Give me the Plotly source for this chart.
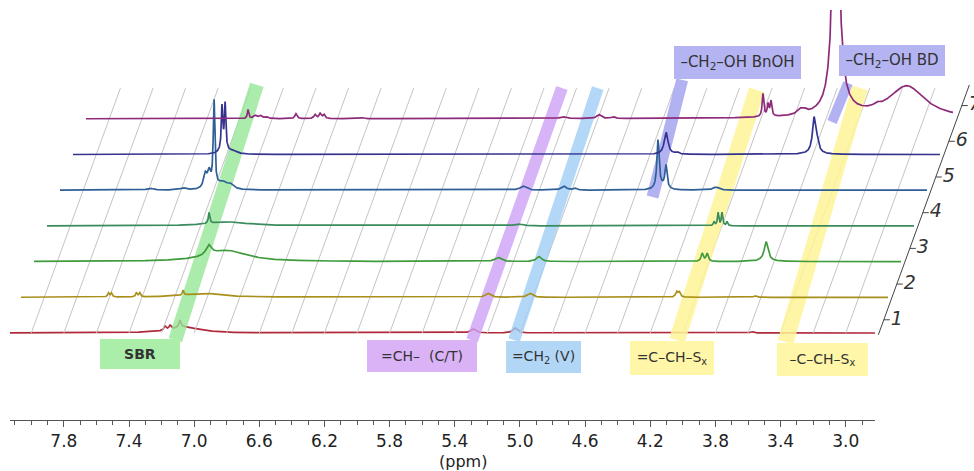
import numpy as np
import plotly.graph_objects as go

# ---------------- data ----------------
PPM_TICKS = [7.8, 7.4, 7.0, 6.6, 6.2, 5.8, 5.4, 5.0, 4.6, 4.2, 3.8, 3.4, 3.0]
GRID_PPM = [8.0, 7.8, 7.6, 7.4, 7.2, 7.0, 6.8, 6.6, 6.4, 6.2, 6.0, 5.8, 5.6,
            5.4, 5.2, 5.0, 4.8, 4.6, 4.4, 4.2, 4.0, 3.8, 3.6, 3.4, 3.2, 3.0]
SPECTRUM_NAMES = ["1", "2", "3", "4", "5", "6", "7"]

# peak lists per spectrum: centre (ppm), height (a.u.), half width (ppm)
S1_PPM = [7.060, 7.179, 7.148, 7.087, 5.288, 5.030, 3.576]
S1_H = [6, 4, 4, 7, 4, 5, 1.5]
S1_W = [0.11, 0.008, 0.008, 0.007, 0.018, 0.016, 0.012]

S2_PPM = [7.606, 7.588, 7.434, 7.414, 7.148, 7.025, 5.276, 5.018, 4.118, 4.102, 3.636]
S2_H = [4, 4, 4, 4, 5, 4, 4, 4, 5, 5, 1.5]
S2_W = [0.006, 0.006, 0.006, 0.006, 0.005, 0.135, 0.018, 0.018, 0.008, 0.008, 0.01]

S3_PPM = [7.070, 6.960, 5.294, 5.043, 4.041, 4.011, 3.649, 3.649]
S3_H = [10, 11, 4, 5, 8, 8, 16, 4]
S3_W = [0.02, 0.15, 0.022, 0.018, 0.008, 0.008, 0.012, 0.03]

S4_PPM = [7.148, 7.037, 5.251, 4.048, 4.023, 3.999, 3.968]
S4_H = [11, 4, 2, 4, 13, 13, 4]
S4_W = [0.005, 0.15, 0.03, 0.005, 0.005, 0.005, 0.005]

S5_PPM = [7.590, 7.387, 7.252, 7.228, 7.197, 7.148, 7.099, 5.300, 5.049, 4.981,
          4.472, 4.423, 4.450, 4.116]
S5_H = [2, 2, 14, 16, 86, 7, 5, 4, 4, 2, 48, 23, 3, 3]
S5_W = [0.02, 0.02, 0.012, 0.012, 0.006, 0.03, 0.025, 0.022, 0.018, 0.012,
        0.008, 0.008, 0.03, 0.022]

S6_PPM = [7.228, 7.209, 7.218, 7.160, 4.502, 4.435, 3.594, 3.575, 3.590]
S6_H = [42, 44, 6, 3, 22, 2, 32, 9, 4]
S6_W = [0.005, 0.005, 0.025, 0.03, 0.014, 0.012, 0.011, 0.01, 0.035]

S7_PPM = [7.148, 7.105, 7.074, 7.037, 6.854, 6.737, 6.706, 6.682, 6.442, 5.215,
          4.994, 4.908, 3.987, 3.956, 3.938, 3.760, 3.730, 3.539, 3.540, 3.289, 3.104]
S7_H = [9, 3, 3, 2, 5, 4, 5, 4, 1, 2, 4, 2, 23, 12, 15, 5, 3, 300, 4, 3, 32]
S7_W = [0.005, 0.012, 0.012, 0.012, 0.008, 0.008, 0.008, 0.008, 0.01, 0.02,
        0.015, 0.012, 0.006, 0.006, 0.006, 0.02, 0.015, 0.021, 0.15, 0.02, 0.135]

PEAK_PPM = [S1_PPM, S2_PPM, S3_PPM, S4_PPM, S5_PPM, S6_PPM, S7_PPM]
PEAK_H = [S1_H, S2_H, S3_H, S4_H, S5_H, S6_H, S7_H]
PEAK_W = [S1_W, S2_W, S3_W, S4_W, S5_W, S6_W, S7_W]

# assignment bands: chemical shift at lower / upper end
BAND_TEXT = ["SBR", "=CH\u2013\u00a0\u00a0(C/T)", "=CH<sub>2</sub> (V)",
             "=C\u2013CH\u2013S<sub>x</sub>", "\u2013C\u2013CH\u2013S<sub>x</sub>",
             "\u2013CH<sub>2</sub>\u2013OH BnOH", "\u2013CH<sub>2</sub>\u2013OH BD"]
BAND_PPM_LOW = [7.10, 5.278, 5.02, 4.02, 3.35, 4.49, 3.556]
BAND_PPM_HIGH = [7.17, 5.29, 5.07, 4.09, 3.46, 4.57, 3.545]

# ---------------- styles / layout ----------------
W, H = 974, 471
PLOT_TOP, PLOT_BOTTOM = 10, 420
AX_LEFT, AX_RIGHT = 10, 875
PX_PER_PPM = 162.9
REF_PPM, REF_PX = 5.4, 454.8
SHIFT_PX = 13.0          # horizontal shift per stacked level
LEVEL_GAP = 35.7         # vertical offset per level (a.u. == px)
BASE1_PX = 333           # baseline of spectrum 1


def ppm_at(px):
    return REF_PPM - (px - REF_PX) / PX_PER_PPM


SHIFT_PPM = SHIFT_PX / PX_PER_PPM
Y_BOTTOM = -(PLOT_BOTTOM - BASE1_PX)
Y_TOP = BASE1_PX - PLOT_TOP

COLORS = ["#b02a3c", "#a8901c", "#3f9b3c", "#3a8c5c", "#2f5f96", "#34348f", "#8e2a7a"]

BAND_STYLE = [
    dict(color="rgba(150,230,150,0.8)", box="#aaeeaa", width=14, l0=-0.2, l1=6.95,
         cx=140, cy=354, bw=80, bh=30, size=14, bold=True),
    dict(color="rgba(205,160,245,0.8)", box="#dab2f6", width=12, l0=-0.2, l1=6.86,
         cx=422, cy=356, bw=110, bh=32, size=14, bold=False),
    dict(color="rgba(160,205,245,0.8)", box="#b2d6f6", width=12, l0=-0.2, l1=6.86,
         cx=543, cy=357, bw=75, bh=32, size=14, bold=False),
    dict(color="rgba(255,243,150,0.85)", box="#fff6a8", width=16, l0=-0.2, l1=6.81,
         cx=672, cy=358, bw=84, bh=34, size=14, bold=False),
    dict(color="rgba(255,243,150,0.85)", box="#fff6a8", width=16, l0=-0.25, l1=6.86,
         cx=822, cy=359, bw=91, bh=33, size=14, bold=False),
    dict(color="rgba(165,165,240,0.85)", box="#b4b4f2", width=12, l0=3.81, l1=7.09,
         cx=737, cy=62, bw=127, bh=33, size=15, bold=False),
    dict(color="rgba(165,165,240,0.85)", box="#b4b4f2", width=10, l0=5.91, l1=7.0,
         cx=892, cy=60, bw=106, bh=31, size=15, bold=False),
]


def px_x(x):
    return x / W


def px_y(y):
    return (PLOT_BOTTOM - y) / (PLOT_BOTTOM - PLOT_TOP)


fig = go.Figure()

# oblique grid lines
grid_top = 6.86
gx, gy = [], []
for p in GRID_PPM:
    gx += [p, p - grid_top * SHIFT_PPM, None]
    gy += [0, grid_top * LEVEL_GAP, None]
fig.add_trace(go.Scatter(x=gx, y=gy, xaxis="x2", yaxis="y", mode="lines",
                         line=dict(color="#c4c4c4", width=1), hoverinfo="skip"))

# assignment bands
for i, st in enumerate(BAND_STYLE):
    xs = [BAND_PPM_LOW[i] - st["l0"] * SHIFT_PPM, BAND_PPM_HIGH[i] - st["l1"] * SHIFT_PPM]
    ys = [st["l0"] * LEVEL_GAP, st["l1"] * LEVEL_GAP]
    fig.add_trace(go.Scatter(x=xs, y=ys, xaxis="x2", yaxis="y", mode="lines",
                             line=dict(color=st["color"], width=st["width"]),
                             hoverinfo="skip"))

# spectra
ppm_grid = np.linspace(ppm_at(AX_LEFT - 2), ppm_at(AX_RIGHT), 7000)
for j in range(7):
    spec = np.zeros_like(ppm_grid)
    for c, h, w in zip(PEAK_PPM[j], PEAK_H[j], PEAK_W[j]):
        spec += h / (1.0 + ((ppm_grid - c) / w) ** 2)
    fig.add_trace(go.Scatter(x=ppm_grid - j * SHIFT_PPM, y=spec + j * LEVEL_GAP,
                             xaxis="x" if j == 0 else "x2", yaxis="y", mode="lines",
                             line=dict(color=COLORS[j], width=1.7), name=SPECTRUM_NAMES[j],
                             hoverinfo="skip"))

# depth axis along the right end of the stack
end_ppm = ppm_at(AX_RIGHT + 4)
lv = [-0.05, 6.95]
fig.add_trace(go.Scatter(x=[end_ppm - l * SHIFT_PPM for l in lv], y=[l * LEVEL_GAP for l in lv],
                         xaxis="x2", yaxis="y", mode="lines",
                         line=dict(color="#444", width=1), hoverinfo="skip"))
tx, ty, lx, ly = [], [], [], []
for k in range(7):
    l = k + 0.37
    x0 = end_ppm - l * SHIFT_PPM
    tx += [x0, x0 - 6 / PX_PER_PPM, None]
    ty += [l * LEVEL_GAP, l * LEVEL_GAP, None]
    lx.append(x0 - 7 / PX_PER_PPM)
    ly.append(l * LEVEL_GAP)
fig.add_trace(go.Scatter(x=tx, y=ty, xaxis="x2", yaxis="y", mode="lines",
                         line=dict(color="#444", width=1), hoverinfo="skip"))
fig.add_trace(go.Scatter(x=lx, y=ly, xaxis="x2", yaxis="y", mode="text",
                         text=SPECTRUM_NAMES, textposition="middle right",
                         textfont=dict(family="DejaVu Sans", size=19, color="#333",
                                       style="italic"),
                         hoverinfo="skip"))

annotations = []
for i, st in enumerate(BAND_STYLE):
    annotations.append(dict(
        text=BAND_TEXT[i], xref="paper", yref="paper",
        x=px_x(st["cx"]), y=px_y(st["cy"]), xanchor="center", yanchor="middle",
        width=st["bw"], height=st["bh"], bgcolor=st["box"], borderpad=0, borderwidth=0,
        showarrow=False,
        font=dict(family="DejaVu Sans", size=st["size"], color="#333",
                  weight="bold" if st["bold"] else "normal"),
    ))
annotations.append(dict(text="(ppm)", xref="paper", yref="paper", x=px_x(463), y=px_y(461),
                        xanchor="center", yanchor="middle", showarrow=False,
                        font=dict(family="DejaVu Sans", size=16, color="#222")))

fig.update_layout(
    width=W, height=H,
    margin=dict(l=0, r=0, t=PLOT_TOP, b=H - PLOT_BOTTOM),
    paper_bgcolor="white", plot_bgcolor="rgba(0,0,0,0)",
    showlegend=False,
    xaxis=dict(domain=[px_x(AX_LEFT), px_x(AX_RIGHT)], range=[ppm_at(AX_LEFT), ppm_at(AX_RIGHT)],
               anchor="y", showgrid=False, zeroline=False, showline=True,
               linecolor="#555", linewidth=1, ticks="outside", ticklen=6, tickcolor="#555",
               tickmode="linear", tick0=3.0, dtick=0.4, tickformat=".1f",
               tickfont=dict(family="DejaVu Sans", size=17, color="#222"),
               minor=dict(ticks="outside", ticklen=4, tickcolor="#555", dtick=0.1, tick0=3.0,
                          showgrid=False)),
    xaxis2=dict(domain=[px_x(AX_LEFT), 1.0], range=[ppm_at(AX_LEFT), ppm_at(W)],
                anchor="y", visible=False),
    yaxis=dict(domain=[0, 1], range=[Y_BOTTOM, Y_TOP], visible=False, anchor="x"),
    annotations=annotations,
)

fig.write_html("out.html", config={"displayModeBar": False},
               post_script="document.body.style.margin='0px';")
